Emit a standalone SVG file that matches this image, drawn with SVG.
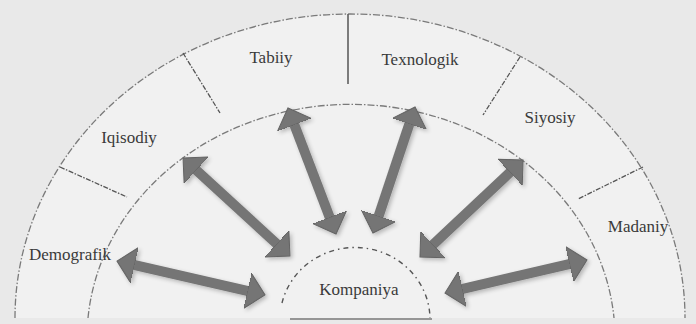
<svg xmlns="http://www.w3.org/2000/svg" width="696" height="324" viewBox="0 0 696 324">
  <defs>
    <style>
      .lbl { font-family: "Liberation Serif", "DejaVu Serif", serif; font-size: 17px; fill: #3a3a3a; text-anchor: middle; }
      .arc { fill: none; stroke: #7a7a7a; stroke-width: 1.3; stroke-dasharray: 7 2 1.5 2; }
      .div { fill: none; stroke: #555; stroke-width: 1.3; stroke-dasharray: 5 1.5 1.5 1.5; }
      .arr { stroke: #747474; stroke-width: 10; fill: none; marker-start: url(#head); marker-end: url(#head); }
    </style>
    <marker id="head" markerUnits="userSpaceOnUse" markerWidth="19" markerHeight="36" viewBox="0 0 19 36" refX="3" refY="18" orient="auto-start-reverse">
      <path d="M0,0 L18,18 L0,36 Z" fill="#747474" stroke="#646464" stroke-width="1"/>
    </marker>
    <filter id="soft" x="-10%" y="-10%" width="130%" height="130%">
      <feGaussianBlur in="SourceAlpha" stdDeviation="2"/>
      <feOffset dx="2" dy="2" result="sh"/>
      <feComponentTransfer><feFuncA type="linear" slope="0.25"/></feComponentTransfer>
      <feMerge><feMergeNode/><feMergeNode in="SourceGraphic"/></feMerge>
    </filter>
  </defs>

  <rect x="0" y="0" width="696" height="324" fill="#e9e9e9"/>
  <path d="M15,318 A335,304 0 0 1 685,318 Z" fill="#f1f1f1"/>

  <g id="ring">
    <path class="arc" d="M15,318 A335,304 0 0 1 685,318"/>
    <path class="arc" d="M88,318 A264,234 0 0 1 614,318"/>
    <line class="div" x1="60" y1="167" x2="127" y2="197"/>
    <line class="div" x1="183" y1="53" x2="220" y2="113"/>
    <line x1="348" y1="14" x2="348" y2="84" stroke="#555" stroke-width="1.5"/>
    <line class="div" x1="520" y1="57" x2="483" y2="115"/>
    <line class="div" x1="643" y1="167" x2="578" y2="199"/>
  </g>

  <g id="kompaniya">
    <path d="M282,303 A75,72 0 0 1 430,318" fill="none" stroke="#555" stroke-width="1.4" stroke-dasharray="5 4 1.5 4"/>
    <line x1="290" y1="319" x2="432" y2="319" stroke="#444" stroke-width="1.2"/>
    <text class="lbl" x="359" y="295">Kompaniya</text>
  </g>

  <g id="demografik"><text class="lbl" x="70" y="260">Demografik</text></g>
  <g id="iqisodiy"><text class="lbl" x="129" y="143">Iqisodiy</text></g>
  <g id="tabiiy"><text class="lbl" x="271" y="63">Tabiiy</text></g>
  <g id="texnologik"><text class="lbl" x="420" y="65">Texnologik</text></g>
  <g id="siyosiy"><text class="lbl" x="550" y="123">Siyosiy</text></g>
  <g id="madaniy"><text class="lbl" x="638" y="232">Madaniy</text></g>

  <g id="connectors" filter="url(#soft)">
    <line class="arr" x1="131.6" y1="264.4" x2="250.4" y2="291.6"/>
    <line class="arr" x1="194.1" y1="168.1" x2="278.9" y2="245.9"/>
    <line class="arr" x1="293.3" y1="122" x2="330.7" y2="220"/>
    <line class="arr" x1="410.3" y1="121.2" x2="377.7" y2="218.8"/>
    <line class="arr" x1="512.1" y1="170.3" x2="430.9" y2="246.7"/>
    <line class="arr" x1="572.4" y1="263.4" x2="459.6" y2="289.6"/>
  </g>
</svg>
